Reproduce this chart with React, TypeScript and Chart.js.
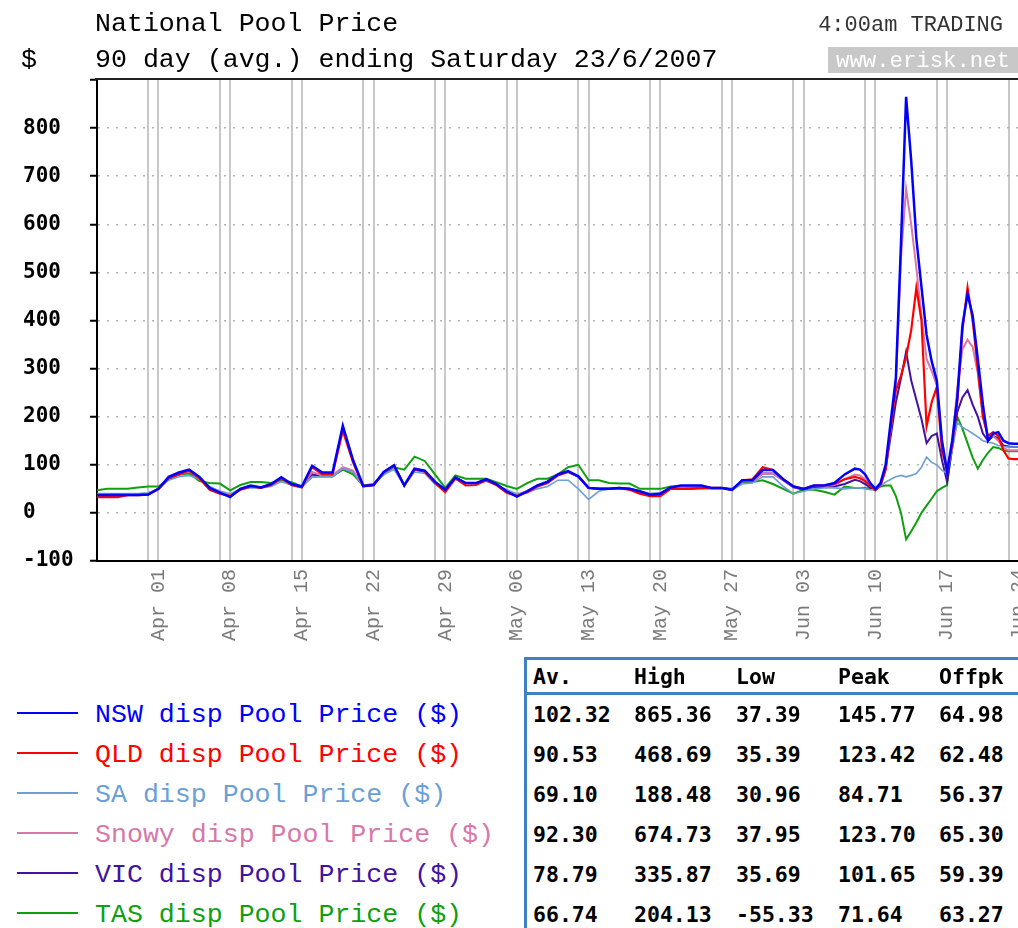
import React, { useEffect, useRef } from 'react';
import { Chart, registerables } from 'chart.js';

Chart.register(...registerables);

// Day of year 2007 (Apr 01 = 91). Daily points, then half-day points for the last fortnight.
const DAYS = [
  85, 86, 87, 88, 89, 90, 91, 92, 93, 94, 95, 96, 97, 98, 99, 100, 101, 102, 103, 104, 105,
  106, 107, 108, 109, 110, 111, 112, 113, 114, 115, 116, 117, 118, 119, 120, 121, 122, 123, 124, 125,
  126, 127, 128, 129, 130, 131, 132, 133, 134, 135, 136, 137, 138, 139, 140, 141, 142, 143, 144, 145,
  146, 147, 148, 149, 150, 151, 152, 153, 154, 155, 156, 157, 158, 159,
  159.5, 160, 160.5, 161, 161.5, 162, 162.5, 163, 163.5, 164, 164.5, 165, 165.5, 166, 166.5, 167,
  167.5, 168, 168.5, 169, 169.5, 170, 170.5, 171, 171.5, 172, 172.5, 173, 173.5, 174, 174.5, 175,
];

const NSW = [
  37, 37, 37, 37, 37, 38, 50,
  75, 84, 90, 75, 52, 42, 33,
  50, 57, 53, 60, 74, 60, 55,
  98, 84, 84, 181, 110, 56, 58,
  85, 99, 57, 92, 88, 65, 48,
  74, 62, 62, 70, 60, 45, 34,
  45, 57, 65, 80, 87, 76, 52,
  50, 50, 52, 50, 45, 38, 40,
  53, 57, 57, 57, 52, 52, 48,
  68, 68, 89, 89, 70, 55, 50,
  57, 57, 62, 80, 92,
  90, 80, 62, 50, 62, 100, 190, 280, 560, 865, 732, 570, 470, 370, 315, 275,
  150, 85, 150, 240, 390, 455, 410, 320, 225, 150, 165, 168, 150, 145, 144, 144,
];

const QLD = [
  33, 33, 33, 37, 37, 38, 50,
  72, 80, 88, 72, 48, 40, 35,
  48, 55, 52, 58, 72, 58, 53,
  95, 80, 80, 171, 105, 55, 58,
  85, 99, 57, 90, 86, 62, 43,
  72, 57, 58, 68, 58, 42, 35,
  43, 55, 62, 78, 85, 76, 52,
  50, 50, 52, 48, 40, 35, 35,
  50, 50, 50, 52, 52, 52, 48,
  68, 70, 95, 89, 70, 55, 50,
  57, 57, 60, 70, 75,
  72, 66, 56, 48, 58, 90, 180, 255, 285, 324, 380, 468, 400, 180, 230, 262,
  130, 90, 140, 230, 380, 468, 400, 300, 200, 160, 168, 160, 130, 113, 112, 112,
];

const SA = [
  40, 40, 40, 40, 40, 42, 50,
  68, 75, 78, 70, 55, 45, 40,
  48, 52, 52, 55, 65, 58, 55,
  75, 75, 75, 92, 85, 55, 58,
  80, 90, 57, 85, 82, 60, 48,
  70, 62, 62, 66, 58, 48, 40,
  42, 50, 55, 68, 68, 50, 28,
  45, 50, 50, 50, 45, 40, 42,
  50, 52, 50, 50, 50, 50, 48,
  60, 62, 75, 75, 55, 40, 45,
  50, 52, 52, 50, 52,
  52, 50, 48, 48, 56, 64, 70, 75, 78, 75, 78, 82, 95, 116, 105, 100,
  89, 82, 130, 188, 178, 172, 165, 158, 150, 147, 145, 140, 138, 137, 137, 137,
];

const SNOWY = [
  38, 38, 38, 38, 38, 40, 50,
  72, 80, 86, 72, 52, 45, 38,
  50, 56, 53, 58, 72, 58, 54,
  85, 78, 78, 95, 88, 56, 58,
  84, 97, 57, 90, 86, 64, 47,
  73, 62, 62, 69, 59, 45, 38,
  45, 56, 64, 80, 86, 75, 52,
  50, 50, 52, 50, 45, 40, 40,
  52, 55, 55, 55, 52, 52, 48,
  66, 66, 82, 82, 68, 54, 50,
  56, 56, 58, 70, 80,
  78, 70, 58, 49, 60, 95, 175, 270, 530, 674, 600, 510, 410, 320, 295, 265,
  150, 90, 140, 260, 340, 360, 345, 290, 200, 155, 160, 150, 135, 130, 130, 130,
];

const VIC = [
  38, 38, 38, 38, 38, 40, 50,
  72, 80, 86, 72, 50, 44, 36,
  50, 56, 53, 58, 72, 58, 54,
  80, 76, 76, 92, 86, 56, 58,
  84, 97, 57, 90, 86, 63, 46,
  73, 62, 62, 69, 59, 44, 36,
  45, 56, 64, 80, 86, 75, 52,
  50, 50, 52, 50, 44, 37, 38,
  52, 55, 55, 55, 52, 52, 48,
  66, 66, 82, 82, 68, 53, 48,
  54, 54, 55, 60, 69,
  66, 60, 52, 47, 56, 90, 160, 230, 280, 335, 275, 235, 195, 145, 160, 165,
  110, 65, 135, 210, 240, 255, 225, 200, 165, 150, 160, 155, 140, 138, 137, 137,
];

const TAS = [
  47, 50, 50, 50, 53, 55, 55,
  70, 80, 82, 66, 62, 61, 47,
  58, 64, 64, 62, 68, 64, 55,
  75, 76, 76, 90, 80, 57, 60,
  80, 95, 90, 117, 108, 80, 52,
  78, 71, 71, 71, 64, 56, 50,
  62, 71, 71, 80, 95, 100, 68,
  68, 62, 61, 61, 50, 50, 50,
  55, 55, 54, 52, 52, 52, 50,
  64, 64, 68, 60, 50, 40, 48,
  48, 44, 38, 55, 52,
  52, 52, 50, 52, 55, 57, 57, 35, 0, -55, -38, -20, 0, 15, 30, 45,
  52, 58, 140, 200, 175, 145, 115, 92, 110, 125, 137, 135, 130, 128, 128, 128,
];

const SERIES_NAMES = ['NSW', 'QLD', 'SA', 'Snowy', 'VIC', 'TAS'];
const SERIES_VALUES = [NSW, QLD, SA, SNOWY, VIC, TAS];
const SERIES_COLORS = ['#0000ff', '#ff0000', '#6b9fd6', '#d778a8', '#4212a0', '#0f9f0f'];
const SERIES_WIDTHS = [2.5, 2.2, 1.6, 2, 2, 2];

// weekend grid lines (Saturday, Sunday) and Sunday labels
const GRID_DAYS = [90, 91, 97, 98, 104, 105, 111, 112, 118, 119, 125, 126, 132, 133, 139, 140, 146, 147, 153, 154, 160, 161, 167, 168, 174, 175];
const SUNDAY_DAYS = [91, 98, 105, 112, 119, 126, 133, 140, 147, 154, 161, 168, 175];
const SUNDAY_LABELS = ['Apr 01', 'Apr 08', 'Apr 15', 'Apr 22', 'Apr 29', 'May 06', 'May 13', 'May 20', 'May 27', 'Jun 03', 'Jun 10', 'Jun 17', 'Jun 24'];

const Y_TICKS = [-100, -50, 0, 50, 100, 150, 200, 250, 300, 350, 400, 450, 500, 550, 600, 650, 700, 750, 800, 850, 900];
const Y_LABELS = ['-100', '', '0', '', '100', '', '200', '', '300', '', '400', '', '500', '', '600', '', '700', '', '800', '', ''];

const STAT_HEADERS = ['Av.', 'High', 'Low', 'Peak', 'Offpk'];
const STAT_ROWS = [
  ['102.32', '865.36', '37.39', '145.77', '64.98'],
  ['90.53', '468.69', '35.39', '123.42', '62.48'],
  ['69.10', '188.48', '30.96', '84.71', '56.37'],
  ['92.30', '674.73', '37.95', '123.70', '65.30'],
  ['78.79', '335.87', '35.69', '101.65', '59.39'],
  ['66.74', '204.13', '-55.33', '71.64', '63.27'],
];

const LIB = '"Liberation Mono", "DejaVu Sans Mono", monospace';
const DJV = '"DejaVu Sans Mono", "Liberation Mono", monospace';

function Txt(props: { x: number; base: number; size: number; family: string; ratio: number; color?: string; bold?: boolean; right?: boolean; children: any }) {
  const top = props.base - props.ratio * props.size;
  const st: any = {
    position: 'absolute',
    top,
    fontFamily: props.family,
    fontSize: props.size,
    lineHeight: props.size + 'px',
    color: props.color || '#000',
    fontWeight: props.bold ? 'bold' : 'normal',
    whiteSpace: 'pre',
  };
  if (props.right) st.right = 1018 - props.x;
  else st.left = props.x;
  return <div style={st}>{props.children}</div>;
}

export default function App() {
  const ref = useRef<HTMLCanvasElement>(null);

  useEffect(() => {
    if (!ref.current) return;
    const topBorder = {
      id: 'topBorder',
      afterDraw(chart: any) {
        const { ctx, chartArea } = chart;
        ctx.save();
        ctx.strokeStyle = '#222';
        ctx.lineWidth = 2;
        ctx.beginPath();
        ctx.moveTo(chartArea.left - 2, chartArea.top - 1);
        ctx.lineTo(chart.width, chartArea.top - 1);
        ctx.stroke();
        ctx.restore();
      },
    };
    const chart = new Chart(ref.current, {
      type: 'line',
      data: {
        datasets: SERIES_NAMES.map((n, si) => ({
          label: n + ' disp Pool Price ($)',
          data: DAYS.map((d, i) => ({ x: d, y: SERIES_VALUES[si][i] })),
          borderColor: SERIES_COLORS[si],
          borderWidth: SERIES_WIDTHS[si],
          pointRadius: 0,
          tension: 0,
          fill: false,
        })),
      },
      options: {
        animation: false,
        responsive: false,
        events: [],
        layout: { padding: { left: 23, top: 80, right: 31, bottom: 0 } },
        plugins: { legend: { display: false }, tooltip: { enabled: false } },
        scales: {
          x: {
            type: 'linear',
            min: 85,
            max: 176,
            afterBuildTicks: (s: any) => {
              s.ticks = GRID_DAYS.map((v) => ({ value: v }));
            },
            afterFit: (s: any) => {
              s.height = 99;
            },
            grid: { color: '#c8c8c8', lineWidth: 2, drawTicks: false },
            border: { color: '#000', width: 2 },
            ticks: {
              autoSkip: false,
              minRotation: 90,
              maxRotation: 90,
              padding: 8,
              color: '#7a7a7a',
              font: { family: LIB, size: 20 },
              callback: (v: any) => {
                const k = SUNDAY_DAYS.indexOf(Number(v));
                return k >= 0 ? SUNDAY_LABELS[k] : '';
              },
            },
          },
          y: {
            type: 'linear',
            min: -100,
            max: 900,
            afterBuildTicks: (s: any) => {
              s.ticks = Y_TICKS.map((v) => ({ value: v }));
            },
            afterFit: (s: any) => {
              s.width = 74;
            },
            grid: {
              color: (c: any) => {
                const v = c.tick ? c.tick.value : 1;
                return v % 100 === 0 && v > -100 && v < 900 ? '#b4b4b4' : 'rgba(0,0,0,0)';
              },
              lineWidth: 1.5,
              tickColor: '#000',
              tickWidth: 2,
              tickLength: 7,
            },
            border: { color: '#000', width: 2, dash: [2, 7] },
            ticks: {
              crossAlign: 'far',
              color: '#000',
              font: { family: DJV, size: 21, weight: 'bold' },
              callback: (v: any) => {
                const k = Y_TICKS.indexOf(Number(v));
                return k >= 0 ? Y_LABELS[k] : '';
              },
            },
          },
        },
      } as any,
      plugins: [topBorder],
    });
    return () => chart.destroy();
  }, []);

  const rowBase = [722, 762, 802, 842, 882, 922];
  const colX = [533, 634, 736, 838, 939];
  const tableBlue = '#3f82c2';

  return (
    <div style={{ position: 'fixed', left: 0, top: 0, width: 1018, height: 928, overflow: 'hidden', background: '#fff' }}>
      <canvas ref={ref} width={1060} height={660} style={{ position: 'absolute', left: 0, top: 0 }} />

      <Txt x={95} base={31} size={26.6} family={LIB} ratio={0.7665}>National Pool Price</Txt>
      <Txt x={95} base={67} size={26.6} family={LIB} ratio={0.7665}>90 day (avg.) ending Saturday 23/6/2007</Txt>
      <Txt x={21} base={67} size={26.6} family={LIB} ratio={0.7665}>$</Txt>
      <Txt x={1003} base={32} size={22} family={LIB} ratio={0.7665} color="#333" right>4:00am TRADING</Txt>
      <div style={{ position: 'absolute', left: 828, top: 47, width: 190, height: 26, background: '#c8c8c8' }} />
      <Txt x={836} base={67} size={22.3} family={LIB} ratio={0.7665} color="#fff">www.erisk.net</Txt>

      {SERIES_NAMES.map((n, i) => (
        <React.Fragment key={n}>
          <div style={{ position: 'absolute', left: 17, top: rowBase[i] - 10, width: 61, height: 2, background: SERIES_COLORS[i] }} />
          <Txt x={95} base={rowBase[i]} size={26.6} family={LIB} ratio={0.7665} color={SERIES_COLORS[i]}>
            {n + ' disp Pool Price ($)'}
          </Txt>
        </React.Fragment>
      ))}

      <div style={{ position: 'absolute', left: 524, top: 657, width: 3, height: 300, background: tableBlue }} />
      <div style={{ position: 'absolute', left: 524, top: 657, width: 500, height: 3, background: tableBlue }} />
      <div style={{ position: 'absolute', left: 527, top: 692, width: 500, height: 3, background: tableBlue }} />
      {STAT_HEADERS.map((h, j) => (
        <Txt key={h} x={colX[j]} base={684} size={21.5} family={DJV} ratio={0.846} bold>{h}</Txt>
      ))}
      {STAT_ROWS.map((r, i) =>
        r.map((c, j) => (
          <Txt key={i + '-' + j} x={colX[j]} base={rowBase[i]} size={21.5} family={DJV} ratio={0.846} bold>{c}</Txt>
        ))
      )}
    </div>
  );
}
